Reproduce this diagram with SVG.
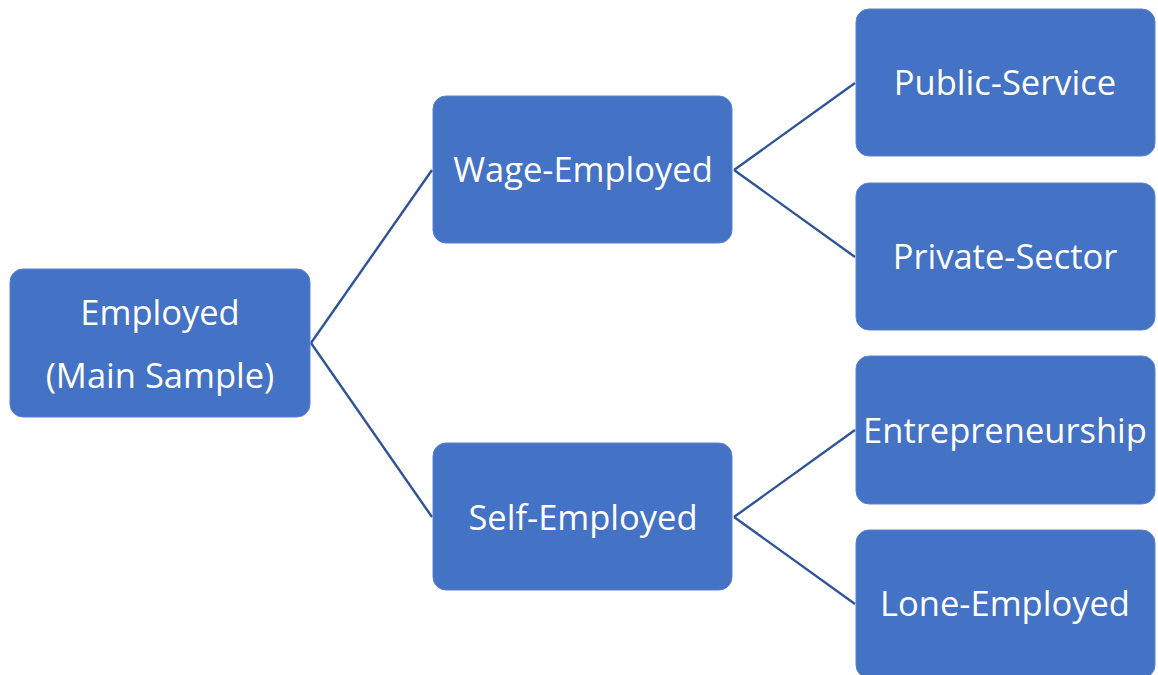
<svg xmlns="http://www.w3.org/2000/svg" width="1158" height="675" viewBox="0 0 1158 675">
  <style>
    .box { fill: #4472C4; stroke: #5B82CC; stroke-width: 1; }
    .lbl { fill: #FFFFFF; font-family: "Open Sans", "Liberation Sans", sans-serif; font-size: 34.5px; text-anchor: middle; dominant-baseline: central; }
    .link { stroke: #2F5597; stroke-width: 2.4; fill: none; }
  </style>
  <rect width="1158" height="675" fill="#FFFFFF"/>
  <g id="connectors">
    <path class="link" d="M311,343 L432,170 M311,343 L432,517"/>
    <path class="link" d="M734,170 L855,83 M734,170 L855,257"/>
    <path class="link" d="M734,517 L855,430 M734,517 L855,604"/>
  </g>
  <g id="employed">
    <rect class="box" x="10" y="269" width="300" height="148" rx="13"/>
    <text class="lbl" x="160" y="311">Employed</text>
    <text class="lbl" x="160" y="374">(Main Sample)</text>
  </g>
  <g id="wage-employed">
    <rect class="box" x="433" y="96" width="299" height="147" rx="13"/>
    <text class="lbl" x="583" y="168">Wage-Employed</text>
  </g>
  <g id="self-employed">
    <rect class="box" x="433" y="443" width="299" height="147" rx="13"/>
    <text class="lbl" x="583" y="516">Self-Employed</text>
  </g>
  <g id="public-service">
    <rect class="box" x="856" y="9" width="299" height="147" rx="13"/>
    <text class="lbl" x="1005" y="81">Public-Service</text>
  </g>
  <g id="private-sector">
    <rect class="box" x="856" y="183" width="299" height="147" rx="13"/>
    <text class="lbl" x="1005" y="255">Private-Sector</text>
  </g>
  <g id="entrepreneurship">
    <rect class="box" x="856" y="356" width="299" height="148" rx="13"/>
    <text class="lbl" x="1005" y="429">Entrepreneurship</text>
  </g>
  <g id="lone-employed">
    <rect class="box" x="856" y="530" width="299" height="148" rx="13"/>
    <text class="lbl" x="1005" y="602">Lone-Employed</text>
  </g>
</svg>
